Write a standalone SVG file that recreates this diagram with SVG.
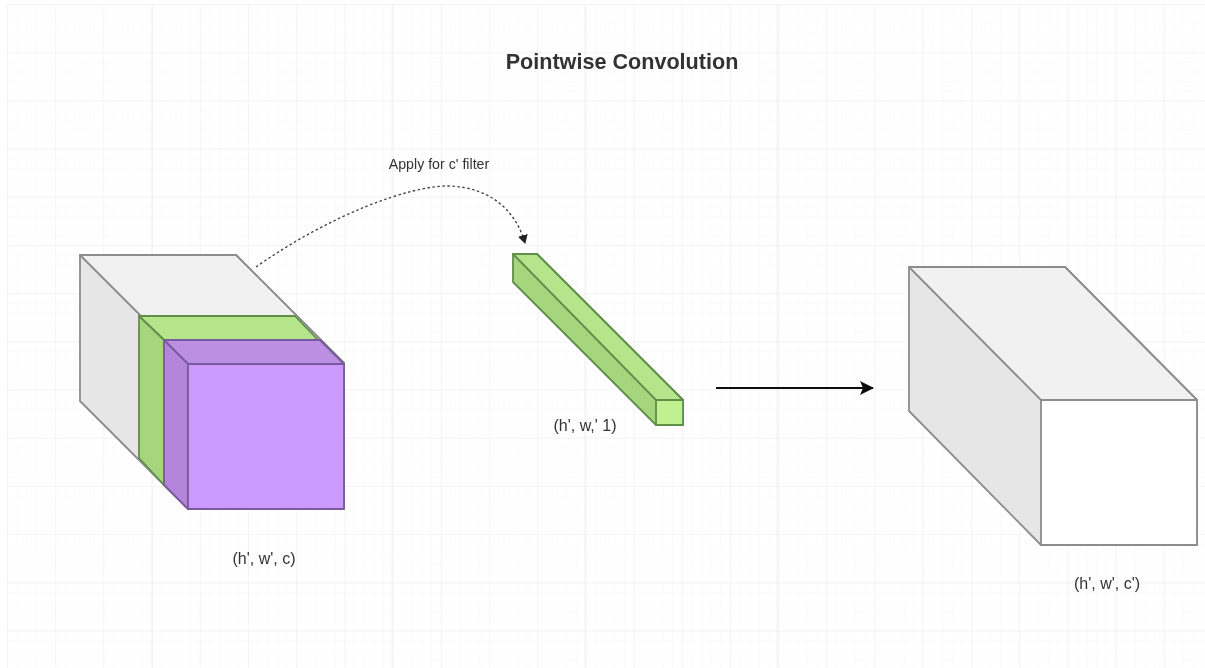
<svg xmlns="http://www.w3.org/2000/svg" width="1205" height="668" viewBox="0 0 1205 668">
<style>
text{font-family:"Liberation Sans",Arial,sans-serif;fill:#333;text-anchor:middle}
.lab{font-size:16px}
.g{stroke:#8c8c8c;stroke-width:1.8;stroke-linejoin:round}
.gn{stroke:#5f8f4a;stroke-width:1.8;stroke-linejoin:round}
.p{stroke:#7a5a9e;stroke-width:1.8;stroke-linejoin:round}
</style>
<defs>
<pattern id="minor" x="7" y="4" width="9.64" height="9.64" patternUnits="userSpaceOnUse"><path d="M9.64 0H0V9.64" fill="none" stroke="#f6f6f6" stroke-width="1"/></pattern>
<pattern id="major" x="7" y="4" width="48.2" height="48.2" patternUnits="userSpaceOnUse"><path d="M48.2 0H0V48.2" fill="none" stroke="#eeeeee" stroke-width="1"/></pattern>
<marker id="head" markerWidth="11" markerHeight="11" refX="8" refY="5" orient="auto" markerUnits="userSpaceOnUse"><path d="M0 0L9 5L0 10Z" fill="#222"/></marker>
<marker id="bigHead" markerWidth="14" markerHeight="14" refX="13" refY="7" orient="auto" markerUnits="userSpaceOnUse"><path d="M0 0L14 7L0 14L3 7Z" fill="#111"/></marker>
<filter id="soft" x="-5%" y="-5%" width="110%" height="110%"><feGaussianBlur stdDeviation="0.75"/></filter>
</defs>
<rect width="1205" height="668" fill="#fff"/>
<g id="grid" filter="url(#soft)">
<rect x="7" y="4" width="1198" height="664" fill="url(#minor)"/>
<rect x="7" y="4" width="1198" height="664" fill="url(#major)"/>
<path d="M152 4V668M392 4V668M585 4V668M777 4V668" stroke="#f0f0f0" stroke-width="1" fill="none"/>
</g>
<g filter="url(#soft)">
<g id="title"><text x="622" y="69" font-size="21.6" font-weight="700">Pointwise Convolution</text></g>
<g id="input-block">
<path class="g" d="M80 255H236L344 363V509H188L80 401Z" fill="#e6e6e6"/>
<path class="g" d="M80 255H236L344 363H188Z" fill="#f1f1f1"/>
</g>
<g id="green-slice">
<path class="gn" d="M139 316H295L318 340H164Z" fill="#b5e58a"/>
<path class="gn" d="M139 316L164 340V485L139 458Z" fill="#a5d57c"/>
</g>
<g id="purple-slice">
<path class="p" d="M164 340H320L344 364H188Z" fill="#bd8fe2"/>
<path class="p" d="M164 340L188 364V509L164 485Z" fill="#b386dc"/>
<rect class="p" x="188" y="364" width="156" height="145" fill="#cc99ff"/>
</g>
<g id="filter-stick">
<path class="gn" d="M513 254H537L683 400V425H656L513 282Z" fill="#a5d57c"/>
<path class="gn" d="M513 254H537L683 400H656Z" fill="#b5e58a"/>
<rect class="gn" x="656" y="400" width="27" height="25" fill="#c0f08f"/>
</g>
<g id="output-block">
<path class="g" d="M909 267H1065L1197 400V545H1041L909 411Z" fill="#e6e6e6"/>
<path class="g" d="M909 267H1065L1197 400H1041Z" fill="#f1f1f1"/>
<rect class="g" x="1041" y="400" width="156" height="145" fill="#fff"/>
</g>
<g id="connectors">
<path d="M256 267C330 215 410 185 450 186C495 188 517 215 525 243" fill="none" stroke="#444" stroke-width="1.4" stroke-dasharray="2.5 2.5" marker-end="url(#head)"/>
<path d="M716 388H873" fill="none" stroke="#111" stroke-width="2" marker-end="url(#bigHead)"/>
</g>
<g id="labels">
<text class="lab" x="439" y="169" style="font-size:14.2px">Apply for c' filter</text>
<text class="lab" x="264" y="564">(h', w', c)</text>
<text class="lab" x="585" y="431">(h', w,' 1)</text>
<text class="lab" x="1107" y="589">(h', w', c')</text>
</g>
</g>
</svg>
